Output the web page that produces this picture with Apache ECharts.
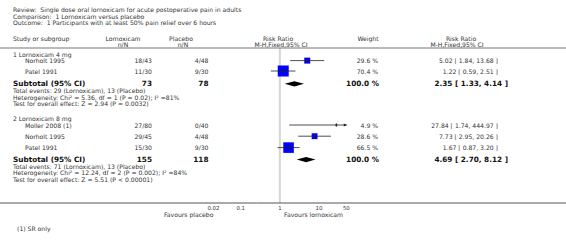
<!DOCTYPE html>
<html><head><meta charset="utf-8">
<script src="https://cdn.jsdelivr.net/npm/echarts@6/dist/echarts.min.js"></script>
<style>html,body{margin:0;padding:0;background:#fff}#c{width:566px;height:245px}</style>
</head><body><div id="c"></div>
<script>
// ---------- data ----------
const reviewTitle = 'Review:  Single dose oral lornoxicam for acute postoperative pain in adults';
const comparisonTitle = 'Comparison:  1 Lornoxicam versus placebo';
const outcomeTitle = 'Outcome:  1 Participants with at least 50% pain relief over 6 hours';
const groupNames = ['1 Lornoxicam 4 mg', '2 Lornoxicam 8 mg'];
const studyNames = ['Norholt 1995', 'Patel 1991', 'Moller 2008 (1)', 'Norholt 1995', 'Patel 1991'];
const studyGroup = [0, 0, 1, 1, 1];
const lornEvents = [18, 11, 27, 29, 15];
const lornTotal = [43, 30, 80, 45, 30];
const placEvents = [4, 9, 0, 4, 9];
const placTotal = [48, 30, 40, 48, 30];
const weights = [29.6, 70.4, 4.9, 28.6, 66.5];
const riskRatio = [5.02, 1.22, 27.84, 7.73, 1.67];
const ciLow = [1.84, 0.59, 1.74, 2.95, 0.87];
const ciHigh = [13.68, 2.51, 444.97, 20.26, 3.20];
const subLornTotal = [73, 155];
const subPlacTotal = [78, 118];
const subRiskRatio = [2.35, 4.69];
const subLow = [1.33, 2.70];
const subHigh = [4.14, 8.12];
const subLornEvents = [29, 71];
const subPlacEvents = [13, 13];
const hetChi2 = ['5.36', '12.24'];
const hetDf = [1, 2];
const hetP = ['P = 0.02', 'P = 0.002'];
const hetI2 = [81, 84];
const effectZ = ['2.94', '5.51'];
const effectP = ['P = 0.0032', 'P < 0.00001'];
const axisTicks = [0.02, 0.1, 1, 10, 50];
const favoursLeft = 'Favours placebo';
const favoursRight = 'Favours lornoxicam';
const footnote = '(1) SR only';

// ---------- layout ----------
const W = 566, H = 245;
const PLOT_L = 213.4, PLOT_R = 346.3, AXIS_Y = 203, RULE_Y = 48;
const studyRowY = [60.6, 71, 125, 136.2, 147.6];
const groupTitleY = [54.2, 118.6];
const subRowY = [83.8, 159.6];
const subInfoY = [[90.7, 97, 103.3], [166.5, 172.8, 179.1]];
const COL = { name: 13, indent: 25, lorn: 152, plac: 208.5, weight: 378, rr: 498, rrBold: 508 };
const FONT = '"DejaVu Sans", Verdana, sans-serif';
const FS = 6.1, FSB = 7.3;
const TXT = '#333';
const lg = Math.log10;
const X_MIN = lg(axisTicks[0]), X_MAX = lg(axisTicks[axisTicks.length - 1]);

const graphics = [];
function T(text, x, y, o = {}) {
  const al = o.align || 'left';
  graphics.push({
    type: 'text', silent: true, z: 10,
    style: {
      text, x, y, fill: o.fill || TXT,
      font: (o.bold ? 'bold ' : '') + (o.size || FS) + 'px ' + FONT,
      textAlign: al, align: al, textVerticalAlign: 'middle', verticalAlign: 'middle'
    }
  });
}
function L(y, color, w) {
  graphics.push({ type: 'line', silent: true, z: 5, shape: { x1: 0, y1: y, x2: W, y2: y }, style: { stroke: color, lineWidth: w } });
}

T(reviewTitle, 13, 9.8);
T(comparisonTitle, 13, 16);
T(outcomeTitle, 13, 22.2);
T('Study or subgroup', 13, 38);
T('Lornoxicam', 123, 38, { align: 'center' });
T('n/N', 123, 44.2, { align: 'center' });
T('Placebo', 181, 38, { align: 'center' });
T('n/N', 183, 44.2, { align: 'center' });
T('Risk Ratio', 278, 38, { align: 'center' });
T('M-H,Fixed,95% CI', 281, 44.2, { align: 'center' });
T('Weight', 368, 38, { align: 'center' });
T('Risk Ratio', 461, 38, { align: 'center' });
T('M-H,Fixed,95% CI', 457, 44.2, { align: 'center' });
L(RULE_Y, '#777', 1.2);
L(AXIS_Y, '#555', 1);

const f2 = v => v.toFixed(2);
studyNames.forEach((nm, i) => {
  const y = studyRowY[i];
  T(nm, COL.indent, y);
  T(lornEvents[i] + '/' + lornTotal[i], COL.lorn, y, { align: 'right' });
  T(placEvents[i] + '/' + placTotal[i], COL.plac, y, { align: 'right' });
  T(weights[i].toFixed(1) + ' %', COL.weight, y, { align: 'right' });
  T(f2(riskRatio[i]) + ' [ ' + f2(ciLow[i]) + ', ' + f2(ciHigh[i]) + ' ]', COL.rr, y, { align: 'right' });
});
groupNames.forEach((g, gi) => {
  T(g, COL.name, groupTitleY[gi]);
  const y = subRowY[gi];
  const wsum = weights.filter((_, i) => studyGroup[i] === gi).reduce((a, b) => a + b, 0);
  T('Subtotal (95% CI)', COL.name, y, { bold: true, size: FSB, fill: '#111' });
  T(String(subLornTotal[gi]), COL.lorn, y, { bold: true, size: FSB, fill: '#111', align: 'right' });
  T(String(subPlacTotal[gi]), COL.plac, y, { bold: true, size: FSB, fill: '#111', align: 'right' });
  T(wsum.toFixed(1) + ' %', COL.weight + 1, y, { bold: true, size: FSB, fill: '#111', align: 'right' });
  T(f2(subRiskRatio[gi]) + ' [ ' + f2(subLow[gi]) + ', ' + f2(subHigh[gi]) + ' ]', COL.rrBold, y, { bold: true, size: FSB, fill: '#111', align: 'right' });
  const [y1, y2, y3] = subInfoY[gi];
  T('Total events: ' + subLornEvents[gi] + ' (Lornoxicam), ' + subPlacEvents[gi] + ' (Placebo)', COL.name, y1);
  T('Heterogeneity: Chi\u00b2 = ' + hetChi2[gi] + ', df = ' + hetDf[gi] + ' (' + hetP[gi] + '); I\u00b2 =' + hetI2[gi] + '%', COL.name, y2);
  T('Test for overall effect: Z = ' + effectZ[gi] + ' (' + effectP[gi] + ')', COL.name, y3);
});
T(favoursLeft, PLOT_L, 214.5, { align: 'right' });
T(favoursRight, 284, 214.5);
T(footnote, 17, 228);

const studyData = studyNames.map((_, i) => [lg(riskRatio[i]), lg(ciLow[i]), lg(ciHigh[i]), studyRowY[i], weights[i]]);
const subData = groupNames.map((_, g) => [lg(subRiskRatio[g]), lg(subLow[g]), lg(subHigh[g]), subRowY[g]]);

const chart = echarts.init(document.getElementById('c'), null, { renderer: 'svg', width: W, height: H });
chart.setOption({
  animation: false,
  backgroundColor: '#fff',
  grid: { left: PLOT_L, right: W - PLOT_R, top: 0, bottom: H - AXIS_Y },
  xAxis: {
    type: 'value', min: X_MIN, max: X_MAX,
    axisLine: { show: false },
    splitLine: { show: false },
    axisTick: { show: true, inside: true, length: 2.5, lineStyle: { color: '#333', width: 0.8 }, customValues: axisTicks.map(lg) },
    axisLabel: {
      color: TXT, fontSize: 5.4, fontFamily: FONT, margin: 2,
      customValues: axisTicks.map(lg),
      formatter: v => String(+Math.pow(10, v).toPrecision(2))
    }
  },
  yAxis: { type: 'value', min: 0, max: AXIS_Y, inverse: true, show: false },
  series: [
    {
      type: 'line', silent: true, symbol: 'none', z: 1,
      data: [[lg(1), RULE_Y], [lg(1), AXIS_Y]],
      lineStyle: { color: '#d6d6d6', width: 2 }
    },
    {
      type: 'custom', silent: true, z: 3, data: studyData,
      renderItem(params, api) {
        const xr = api.value(0), xl = api.value(1), xh = api.value(2), y = api.value(3), w = api.value(4);
        const lo = api.coord([Math.max(xl, X_MIN), y]);
        const hi = api.coord([Math.min(xh, X_MAX), y]);
        const c = api.coord([xr, y]);
        const s = 11 * Math.pow(w / 70.4, 0.7);
        const ch = [
          { type: 'rect', shape: { x: c[0] - s / 2, y: c[1] - s / 2, width: s, height: s }, style: { fill: '#0000ff' } },
          { type: 'line', shape: { x1: lo[0], y1: lo[1], x2: hi[0], y2: hi[1] }, style: { stroke: '#222', lineWidth: 0.8 } },
          { type: 'line', shape: { x1: c[0], y1: c[1] - 1.8, x2: c[0], y2: c[1] + 1.8 }, style: { stroke: '#222', lineWidth: 0.8 } }
        ];
        if (xh > X_MAX) ch.push({ type: 'polygon', shape: { points: [[hi[0] + 1, hi[1]], [hi[0] - 2.5, hi[1] - 1.6], [hi[0] - 2.5, hi[1] + 1.6]] }, style: { fill: '#222' } });
        return { type: 'group', children: ch };
      }
    },
    {
      type: 'custom', silent: true, z: 3, data: subData,
      renderItem(params, api) {
        const y = api.value(3);
        const c = api.coord([api.value(0), y]);
        const lo = api.coord([api.value(1), y]);
        const hi = api.coord([api.value(2), y]);
        return { type: 'polygon', shape: { points: [[lo[0], lo[1]], [c[0], c[1] - 2.6], [hi[0], hi[1]], [c[0], c[1] + 2.6]] }, style: { fill: '#000' } };
      }
    }
  ],
  graphic: graphics
});
</script></body></html>
